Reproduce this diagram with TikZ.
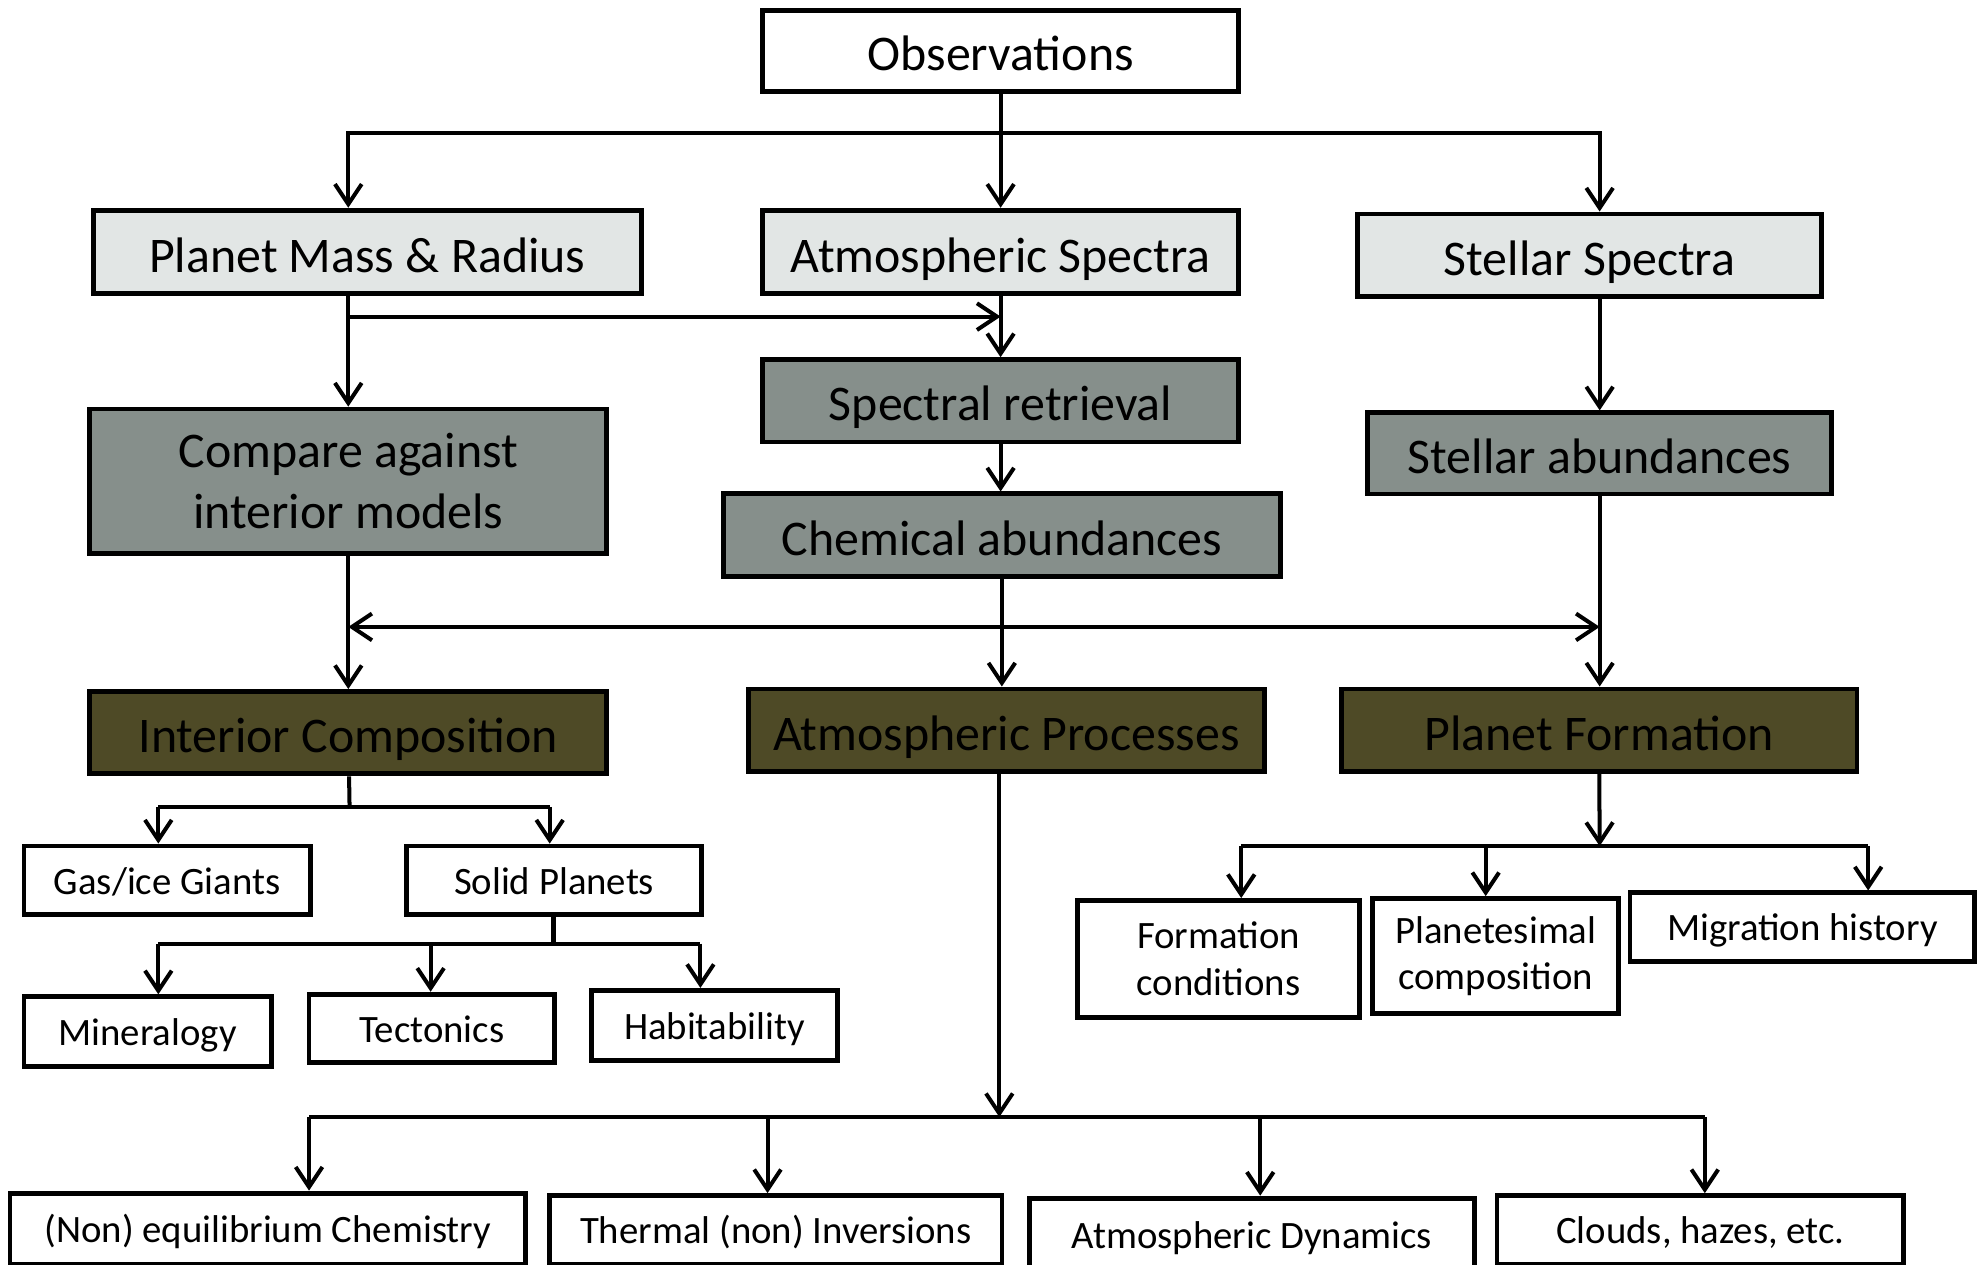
\documentclass[tikz,border=0pt]{standalone}
\usepackage{fontspec}
\setmainfont{Carlito}
\usetikzlibrary{arrows.meta}
\definecolor{specgray}{HTML}{E2E6E5}
\definecolor{modelgray}{HTML}{868F8B}
\definecolor{procolive}{HTML}{4E4A26}
\newcommand{\bigtext}{\fontsize{11.2}{13.7}\selectfont}
\newcommand{\smalltext}{\fontsize{8.7}{10.5}\selectfont}

\begin{document}
\begin{tikzpicture}[x=0.01cm,y=-0.01cm,
        >={Straight Barb[length=4.5pt,width=6pt]},
        box/.style={draw,line width=1.1pt,inner sep=0pt,align=center,text=black},
        bigtwo/.style={box,font=\bigtext},
        big/.style={bigtwo,text height=9pt,text depth=0pt},
        smalltwo/.style={box,font=\smalltext,fill=white},
        small/.style={smalltwo,text height=6.2pt,text depth=0pt},
        line/.style={line width=0.9pt},
        arr/.style={line,->}]
    \useasboundingbox (0,0) rectangle (1568,998);
    % top
    \node[big,fill=white,minimum width=3.76cm,minimum height=0.64cm] (obs) at (790,40) {Observations};
    \node[big,fill=specgray,minimum width=4.32cm,minimum height=0.66cm] (mass) at (290,199) {Planet Mass \& Radius};
    \node[big,fill=specgray,minimum width=3.76cm,minimum height=0.66cm] (atm) at (790,199) {Atmospheric Spectra};
    \node[big,fill=specgray,minimum width=3.66cm,minimum height=0.65cm] (stel) at (1255,201.5) {Stellar Spectra};
    % analysis
    \node[bigtwo,fill=modelgray,minimum width=4.08cm,minimum height=1.14cm] (cmp) at (275,380) {Compare against\\interior models};
    \node[big,fill=modelgray,minimum width=3.76cm,minimum height=0.65cm] (ret) at (790,316.5) {Spectral retrieval};
    \node[big,fill=modelgray,minimum width=4.40cm,minimum height=0.65cm] (chem) at (791,422.5) {Chemical abundances};
    \node[big,fill=modelgray,minimum width=3.66cm,minimum height=0.64cm] (sab) at (1263,358) {Stellar abundances};
    % science goals
    \node[big,fill=procolive,minimum width=4.08cm,minimum height=0.65cm] (int) at (275,578.5) {Interior Composition};
    \node[big,fill=procolive,minimum width=4.07cm,minimum height=0.65cm] (proc) at (794.5,576.5) {Atmospheric Processes};
    \node[big,fill=procolive,minimum width=4.07cm,minimum height=0.65cm] (form) at (1262.5,576.5) {Planet Formation};
    % interior
    \node[small,minimum width=2.26cm,minimum height=0.54cm] (gas) at (132,695) {Gas/ice Giants};
    \node[small,minimum width=2.33cm,minimum height=0.54cm] (solid) at (437.5,695) {Solid Planets};
    \node[small,minimum width=1.95cm,minimum height=0.55cm] (mineral) at (116.5,814.5) {Mineralogy};
    \node[small,minimum width=1.94cm,minimum height=0.54cm] (tect) at (341,812) {Tectonics};
    \node[small,minimum width=1.94cm,minimum height=0.55cm] (habit) at (564,809.5) {Habitability};
    % formation
    \node[smalltwo,minimum width=2.22cm,minimum height=0.92cm] (fcond) at (962,757) {Formation\\conditions};
    \node[smalltwo,minimum width=1.94cm,minimum height=0.91cm] (plan) at (1181,755) {Planetesimal\\composition};
    \node[small,minimum width=2.72cm,minimum height=0.54cm] (mig) at (1423,732) {Migration history};
    % atmosphere
    \node[small,minimum width=4.07cm,minimum height=0.56cm] (chemeq) at (211.5,970) {(Non) equilibrium Chemistry};
    \node[small,minimum width=3.57cm,minimum height=0.54cm] (therm) at (612.5,971) {Thermal (non) Inversions};
    \node[small,minimum width=3.51cm,minimum height=0.58cm] (dyn) at (988.5,975) {Atmospheric Dynamics};
    \node[small,minimum width=3.21cm,minimum height=0.54cm] (cloud) at (1342.5,971) {Clouds, hazes, etc.};

    \coordinate (obsJ) at (790,105);
    \coordinate (massJ) at (276,250);
    \coordinate (midJ) at (790,495);
    \coordinate (intJ) at (276,637);
    \coordinate (gasC) at (125,637);
    \coordinate (solidC) at (434,637);
    \coordinate (solJ) at (437,745);
    \coordinate (minC) at (125,745);
    \coordinate (tectC) at (340,745);
    \coordinate (habC) at (553,745);
    \coordinate (formJ) at (1263,668);
    \coordinate (fcondC) at (980,668);
    \coordinate (planC) at (1173,668);
    \coordinate (migC) at (1475,668);
    \coordinate (procJ) at (789,882);
    \coordinate (eqC) at (244,882);
    \coordinate (thC) at (606,882);
    \coordinate (dynC) at (995,882);
    \coordinate (clC) at (1346,882);

    \draw[line] (obs) -- (obsJ);
    \draw[arr] (obsJ) -- (atm);
    \draw[arr] (obsJ) -| (mass.north -| cmp);
    \draw[arr] (obsJ) -| (stel.north -| sab);
    \draw[arr] (mass.south -| cmp) -- (cmp);
    \draw[arr] (massJ) -- (massJ -| atm);
    \draw[arr] (atm) -- (ret);
    \draw[arr] (ret) -- (ret |- chem.north);
    \draw[arr] (stel.south -| sab) -- (sab);
    \draw[line,<->] (cmp |- midJ) -- (sab |- midJ);
    \draw[arr] (cmp) -- (int);
    \draw[arr] (chem) -- (chem |- proc.north);
    \draw[arr] (sab) -- (sab |- form.north);
    % interior tree
    \draw[line] (int) -- (intJ);
    \draw[line] (gasC) -- (solidC);
    \draw[arr] (gasC) -- (gasC |- gas.north);
    \draw[arr] (solidC) -- (solidC |- solid.north);
    \draw[line] (solid.south -| solJ) -- (solJ);
    \draw[line] (minC) -- (habC);
    \draw[arr] (minC) -- (minC |- mineral.north);
    \draw[arr] (tectC) -- (tectC |- tect.north);
    \draw[arr] (habC) -- (habC |- habit.north);
    % formation tree
    \draw[arr] (form) -- (formJ);
    \draw[line] (fcondC) -- (migC);
    \draw[arr] (fcondC) -- (fcondC |- fcond.north);
    \draw[arr] (planC) -- (planC |- plan.north);
    \draw[arr] (migC) -- (migC |- mig.north);
    % atmosphere tree
    \draw[arr] (proc.south -| procJ) -- (procJ);
    \draw[line] (eqC) -- (clC);
    \draw[arr] (eqC) -- (eqC |- chemeq.north);
    \draw[arr] (thC) -- (thC |- therm.north);
    \draw[arr] (dynC) -- (dynC |- dyn.north);
    \draw[arr] (clC) -- (clC |- cloud.north);
\end{tikzpicture}
\end{document}
